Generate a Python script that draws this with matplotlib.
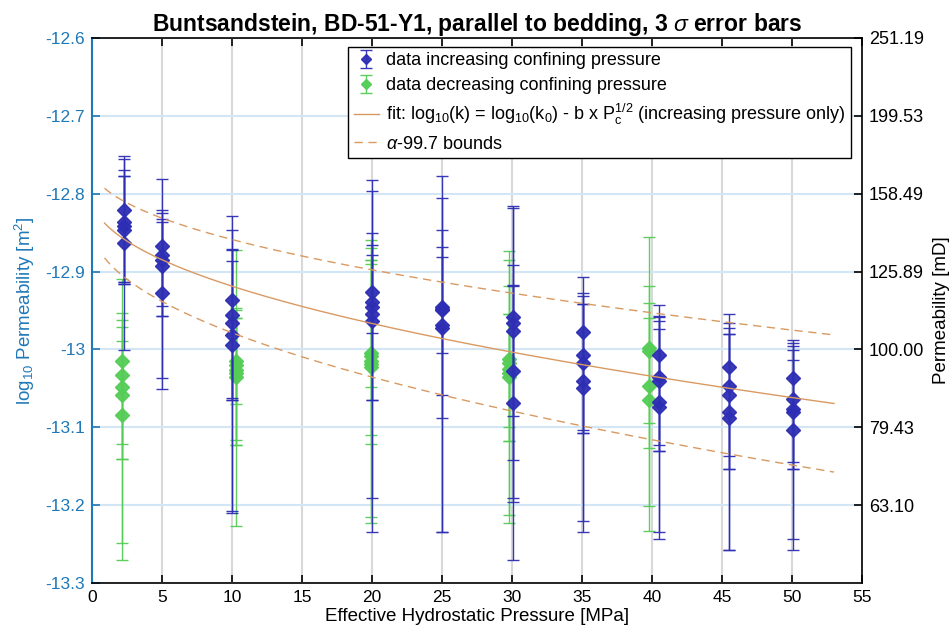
import numpy as np
import matplotlib
matplotlib.use("Agg")
import matplotlib.pyplot as plt
from matplotlib.ticker import FixedLocator, FuncFormatter

plt.rcParams['font.family'] = ['Liberation Sans', 'DejaVu Sans']
plt.rcParams['axes.unicode_minus'] = False
plt.rcParams['mathtext.fontset'] = 'custom'
plt.rcParams['mathtext.rm'] = 'Liberation Sans'
plt.rcParams['mathtext.it'] = 'Liberation Sans:italic'
plt.rcParams['mathtext.bf'] = 'Liberation Sans:bold'

# ---------------- data (log10 permeability in m^2) ----------------
# increasing confining pressure
inc_p = [2.3]*5 + [5.0]*5 + [10.0]*5 + [20.0]*5 + [25.0]*5 + [30.05]*5 + [35.1]*5 + [40.5]*5 + [45.5]*5 + [50.1]*5
inc_logk = [-12.821, -12.836, -12.841, -12.846, -12.863,
            -12.867, -12.879, -12.885, -12.893, -12.928,
            -12.936, -12.956, -12.966, -12.981, -12.994,
            -12.926, -12.939, -12.945, -12.954, -12.964,
            -12.945, -12.948, -12.950, -12.969, -12.972,
            -12.958, -12.966, -12.976, -13.028, -13.069,
            -12.977, -13.007, -13.018, -13.041, -13.050,
            -13.007, -13.035, -13.041, -13.068, -13.074,
            -13.022, -13.047, -13.059, -13.081, -13.088,
            -13.037, -13.064, -13.077, -13.080, -13.103]
inc_upper = [-12.752, -12.756, -12.769, -12.777, -12.777,
             -12.781, -12.821, -12.825, -12.832, -12.836,
             -12.829, -12.847, -12.871, -12.872, -12.886,
             -12.783, -12.797, -12.851, -12.866, -12.879,
             -12.777, -12.805, -12.847, -12.868, -12.881,
             -12.816, -12.819, -12.892, -12.917, -12.919,
             -12.907, -12.928, -12.932, -12.942, -12.942,
             -12.943, -12.957, -12.959, -12.964, -12.974,
             -12.955, -12.966, -12.972, -12.980, -12.980,
             -12.988, -12.992, -12.996, -13.001, -13.013]
inc_lower = [-12.913, -12.913, -12.916, -12.916, -13.001,
             -12.944, -12.957, -12.957, -13.037, -13.051,
             -13.063, -13.065, -13.065, -13.208, -13.210,
             -12.979, -13.065, -13.065, -13.191, -13.234,
             -13.004, -13.059, -13.088, -13.234, -13.234,
             -13.086, -13.142, -13.191, -13.196, -13.270,
             -13.103, -13.107, -13.107, -13.220, -13.235,
             -13.123, -13.130, -13.130, -13.234, -13.244,
             -13.137, -13.153, -13.153, -13.257, -13.257,
             -13.144, -13.153, -13.153, -13.244, -13.257]

# decreasing confining pressure
dec_p = [2.15]*5 + [10.3]*5 + [19.9]*5 + [29.8]*5 + [39.8]*4
dec_logk = [-13.0145, -13.033, -13.048, -13.059, -13.084,
            -13.015, -13.020, -13.026, -13.030, -13.035,
            -13.005, -13.009, -13.015, -13.019, -13.022,
            -13.012, -13.018, -13.025, -13.030, -13.035,
            -12.998, -13.002, -13.047, -13.065]
dec_upper = [-12.910, -12.953, -12.962, -12.971, -12.989,
             -12.872, -12.947, -12.950, -12.960, -12.960,
             -12.860, -12.870, -12.885, -12.885, -12.890,
             -12.874, -12.885, -12.919, -12.954, -12.954,
             -12.856, -12.919, -12.941, -12.960]
dec_lower = [-13.121, -13.141, -13.141, -13.249, -13.271,
             -13.070, -13.116, -13.123, -13.123, -13.227,
             -13.048, -13.110, -13.121, -13.215, -13.223,
             -13.099, -13.118, -13.118, -13.213, -13.223,
             -13.094, -13.126, -13.201, -13.233]

# fit parameters: log10(k) = log10(k0) - b * sqrt(Pc)
LOG_K0 = -12.803
B_FIT = 0.0366
LOG_K0_ERR = 0.0382
B_ERR = 0.00685
P_FIT_MIN, P_FIT_MAX = 0.9, 53.0

x_ticks = list(range(0, 56, 5))
y_ticks = [-12.6, -12.7, -12.8, -12.9, -13.0, -13.1, -13.2, -13.3]
right_ticks = y_ticks[:-1]

# ---------------- styles ----------------
BLUE = '#2e2eb4'
GREEN = '#55cc55'
FIT = '#d99a62'
AXBLUE = '#1f78b8'

fig = plt.figure(figsize=(9.52, 6.39), dpi=100)
ax = fig.add_axes([0.0966, 0.0876, 0.8089, 0.853])

def draw(p, v, up, lo, color, label, z):
    p = np.asarray(p); v = np.asarray(v); up = np.asarray(up); lo = np.asarray(lo)
    yerr = np.vstack([v - lo, up - v])
    return ax.errorbar(p, v, yerr=yerr, fmt='D', color=color, ecolor=color,
                       markersize=7, markeredgecolor=color, markerfacecolor=color,
                       elinewidth=1.0, capsize=4, capthick=1.0, label=label,
                       zorder=z, alpha=0.95)

h1 = draw(inc_p, inc_logk, inc_upper, inc_lower, BLUE, 'data increasing confining pressure', 4)
h2 = draw(dec_p, dec_logk, dec_upper, dec_lower, GREEN, 'data decreasing confining pressure', 3)

pp = np.linspace(P_FIT_MIN, P_FIT_MAX, 300)
fit = LOG_K0 - B_FIT * np.sqrt(pp)
upper = (LOG_K0 + LOG_K0_ERR) - (B_FIT - B_ERR) * np.sqrt(pp)
lower = (LOG_K0 - LOG_K0_ERR) - (B_FIT + B_ERR) * np.sqrt(pp)
h3, = ax.plot(pp, fit, '-', color=FIT, lw=1.0, zorder=5,
              label=r'fit: log$_{10}$(k) = log$_{10}$(k$_0$) - b x P$_\mathrm{c}^{1/2}$ (increasing pressure only)')
h4, = ax.plot(pp, upper, '--', color=FIT, lw=1.0, dashes=(6, 4), zorder=5,
              label=r'$\alpha$-99.7 bounds')
ax.plot(pp, lower, '--', color=FIT, lw=1.0, dashes=(6, 4), zorder=5)

ax.set_xlim(0, 55)
ax.set_ylim(-13.3, -12.6)
ax.xaxis.set_major_locator(FixedLocator(x_ticks))
ax.yaxis.set_major_locator(FixedLocator(y_ticks))
ax.yaxis.set_major_formatter(FuncFormatter(lambda v, pos: '%g' % round(v, 2)))

ax.grid(axis='x', color='#d8d8d8', lw=1.5, zorder=0)
ax.grid(axis='y', color='#d3e6f5', lw=1.5, zorder=0)
ax.set_axisbelow(True)

ax.tick_params(axis='both', direction='in', length=6, width=1.2, labelsize=12.5)
ax.tick_params(axis='x', top=True, colors='black', pad=5)
ax.tick_params(axis='y', colors=AXBLUE, right=False, pad=5)
for s in ['top', 'bottom', 'right']:
    ax.spines[s].set_color('black')
    ax.spines[s].set_linewidth(1.2)
ax.spines['left'].set_color(AXBLUE)
ax.spines['left'].set_linewidth(1.5)

ax.set_xlabel('Effective Hydrostatic Pressure [MPa]', fontsize=13.5, labelpad=2)
ax.set_ylabel(r'log$_{10}$ Permeability [m$^2$]', fontsize=13.5, color=AXBLUE, labelpad=6)
ax.set_title(r'Buntsandstein, BD-51-Y1, parallel to bedding, 3 $\sigma$ error bars',
             fontsize=16.5, fontweight='bold', pad=5)

ax2 = ax.twinx()
ax2.set_ylim(ax.get_ylim())
ax2.yaxis.set_major_locator(FixedLocator(right_ticks))
ax2.yaxis.set_major_formatter(FuncFormatter(lambda v, pos: '%.2f' % (10 ** (v + 15))))
ax2.tick_params(axis='y', direction='in', length=6, width=1.2, labelsize=13, colors='black', pad=5)
ax2.set_ylabel('Permeability [mD]', fontsize=13.5, labelpad=6)
for s in ax2.spines.values():
    s.set_visible(False)

leg = ax.legend(handles=[h1, h2, h3, h4], loc='upper right', bbox_to_anchor=(0.986, 0.984),
                borderaxespad=0, fontsize=13, frameon=True, fancybox=False,
                edgecolor='black', framealpha=1, handlelength=1.4, handletextpad=0.4,
                labelspacing=0.45, borderpad=0.3, markerscale=0.7)
leg.get_frame().set_linewidth(1.0)
leg.set_zorder(10)

fig.savefig('out.png', dpi=100)
